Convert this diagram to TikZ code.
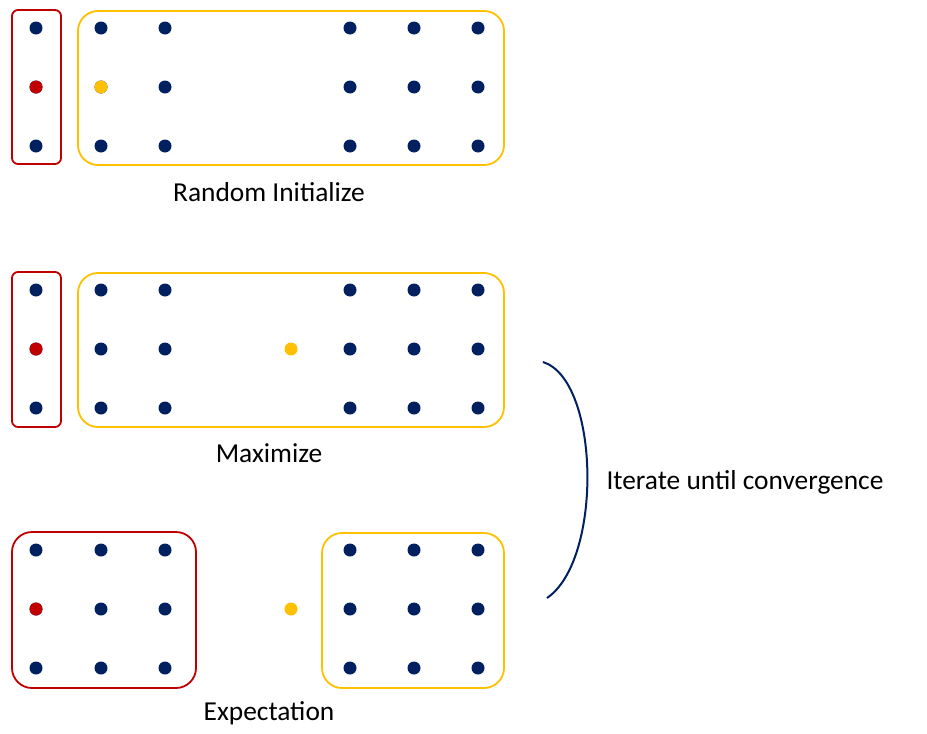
\documentclass[tikz,border=0pt]{standalone}
\usepackage{fontspec}
\setmainfont{Carlito}
\usetikzlibrary{positioning,calc}
\definecolor{dotblue}{HTML}{002060}
\definecolor{boxred}{HTML}{C00000}
\definecolor{boxyellow}{HTML}{FFC000}
\tikzset{
	dot/.style={circle, fill=#1, inner sep=0pt, minimum size=13pt},
	dot/.default=dotblue,
}
\begin{document}
\begin{tikzpicture}[x=1pt, y=-1pt]
	\tikzstyle{group} = [rectangle, draw=#1, line width=1.8pt, inner sep=0pt]
	\tikzstyle{caption} = [font=\fontsize{27.4}{32}\selectfont, text=black]
	\useasboundingbox (0,0) rectangle (927,734);
	% random initialize
	\node (redA)[group=boxred, rounded corners=6pt, minimum width=49pt, minimum height=154pt] at (36.5, 87) {};
	\node (yellowA)[group=boxyellow, rounded corners=20pt, minimum width=426pt, minimum height=154pt] at (291, 88) {};
	\foreach \y/\r in {28/1, 87/2, 146/3} {
		\node (a-0-\r)[dot] at (36, \y) {};
		\foreach \x/\c in {101/1, 165/2, 350/3, 414/4, 478/5}
			\node (a-\c-\r)[dot] at (\x, \y) {};
	}
	\node[dot=boxred] at (a-0-2) {};
	\node[dot=boxyellow] at (a-1-2) {};
	\node (initialize)[caption] at (269, 192) {Random Initialize};
	% maximize
	\node (redB)[group=boxred, rounded corners=6pt, minimum width=49pt, minimum height=155pt] at (36.5, 349.5) {};
	\node (yellowB)[group=boxyellow, rounded corners=20pt, minimum width=426pt, minimum height=154pt] at (291, 350) {};
	\foreach \y/\r in {290/1, 349/2, 408/3} {
		\node (b-0-\r)[dot] at (36, \y) {};
		\foreach \x/\c in {101/1, 165/2, 350/3, 414/4, 478/5}
			\node (b-\c-\r)[dot] at (\x, \y) {};
	}
	\node[dot=boxred] at (b-0-2) {};
	\node (centroidB)[dot=boxyellow] at (291, 349) {};
	\node (maximize)[caption] at (269, 453) {Maximize};
	% expectation
	\node (redC)[group=boxred, rounded corners=20pt, minimum width=184pt, minimum height=156pt] at (104, 610) {};
	\node (yellowC)[group=boxyellow, rounded corners=20pt, minimum width=182pt, minimum height=155pt] at (413, 610.5) {};
	\foreach \y/\r in {550/1, 609/2, 668/3} {
		\foreach \x/\c in {36/1, 101/2, 165/3, 350/4, 414/5, 478/6}
			\node (c-\c-\r)[dot] at (\x, \y) {};
	}
	\node[dot=boxred] at (c-1-2) {};
	\node (centroidC)[dot=boxyellow] at (291, 609) {};
	\node (expectation)[caption] at (269, 713) {Expectation};
	% loop bracket
	\coordinate (bracketTop) at (543, 362);
	\coordinate (bracketBottom) at (547, 598);
	\draw [dotblue, line width=2pt] (bracketTop) .. controls (600, 380) and (603, 560) .. (bracketBottom);
	\node (iterate)[caption, anchor=west] at (603, 482) {Iterate until convergence};
\end{tikzpicture}
\end{document}
